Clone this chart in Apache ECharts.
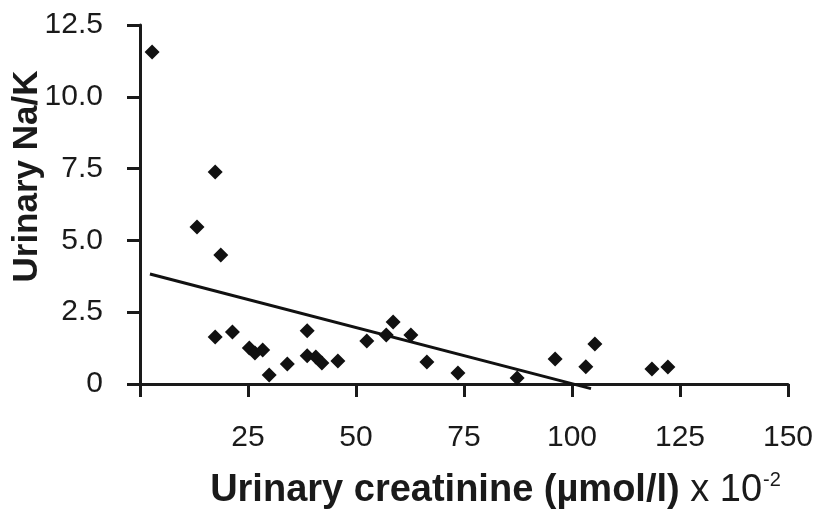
<!DOCTYPE html>
<html>
<head>
<meta charset="utf-8">
<script src="https://cdn.jsdelivr.net/npm/echarts@6/dist/echarts.min.js"></script>
<style>
  html, body { margin: 0; padding: 0; background: #fff; }
  #chart { width: 816px; height: 516px; }
</style>
</head>
<body>
<div id="chart"></div>
<script>
// urinary creatinine (umol/l x 10^-2) vs urinary Na/K
const creatinine = [2.8, 13.2, 17.4, 18.7, 17.4, 21.4, 25.3, 26.6, 28.4, 29.9, 34.1, 38.7, 38.7, 40.7,
  42.1, 45.8, 52.5, 57.0, 58.6, 62.7, 66.4, 73.6, 87.3, 96.1, 103.2, 105.3, 118.5, 122.2]
const naK = [11.56, 5.47, 7.38, 4.49, 1.64, 1.81, 1.25, 1.08, 1.18, 0.31, 0.70, 1.85, 0.98, 0.94,
  0.73, 0.80, 1.50, 1.71, 2.16, 1.71, 0.77, 0.38, 0.21, 0.87, 0.60, 1.39, 0.52, 0.59]

// regression line end points
const trendX = [2.3, 104.4]
const trendY = [3.83, -0.16]

const xTickLabels = ['', '25', '50', '75', '100', '125', '150']
const yTickLabels = ['0', '2.5', '5.0', '7.5', '10.0', '12.5']

const font = '"Liberation Sans", Arial, Helvetica, sans-serif'
const ink = '#1a1a1a'

const chart = echarts.init(document.getElementById('chart'))

const axisCommon = {
  axisLine: { show: true, lineStyle: { color: ink, width: 3 } },
  axisTick: { show: true, length: 13, lineStyle: { color: ink, width: 3 } },
  splitLine: { show: false },
  nameMoveOverlap: false
}

const option = {
  backgroundColor: '#fff',
  animation: false,
  grid: { left: 140, right: 28, top: 25, bottom: 132, outerBoundsMode: 'none', containLabel: false },
  xAxis: {
    type: 'value',
    min: 0,
    max: 150,
    interval: 25,
    ...axisCommon,
    axisLabel: {
      margin: 39,
      fontFamily: font,
      fontSize: 30,
      color: ink,
      formatter: (v) => xTickLabels[Math.round(v / 25)]
    },
    name: '{b|Urinary creatinine (µmol/l)}{r| x 10}{s|-2}',
    nameLocation: 'middle',
    nameGap: 86,
    nameTextStyle: {
      padding: [0, 0, 0, 63],
      rich: {
        b: { fontFamily: font, fontSize: 38, fontWeight: 'bold', color: ink },
        r: { fontFamily: font, fontSize: 38, color: ink },
        s: { fontFamily: font, fontSize: 20, color: ink, padding: [0, 0, 22, 1] }
      }
    }
  },
  yAxis: {
    type: 'value',
    min: 0,
    max: 12.5,
    interval: 2.5,
    ...axisCommon,
    axisLabel: {
      margin: 37,
      fontFamily: font,
      fontSize: 30,
      color: ink,
      formatter: (v) => yTickLabels[Math.round(v / 2.5)]
    },
    name: 'Urinary Na/K',
    nameLocation: 'middle',
    nameRotate: 90,
    nameGap: 95,
    nameTextStyle: {
      fontFamily: font,
      fontSize: 35,
      fontWeight: 'bold',
      color: ink,
      padding: [0, 0, 0, 56]
    }
  },
  series: [
    {
      type: 'scatter',
      symbol: 'diamond',
      symbolSize: 15,
      itemStyle: { color: '#111', opacity: 1 },
      data: creatinine.map((x, i) => [x, naK[i]]),
      z: 3
    },
    {
      type: 'line',
      clip: false,
      showSymbol: false,
      lineStyle: { color: '#111', width: 3 },
      data: trendX.map((x, i) => [x, trendY[i]]),
      z: 2
    }
  ]
}

chart.setOption(option)
</script>
</body>
</html>
